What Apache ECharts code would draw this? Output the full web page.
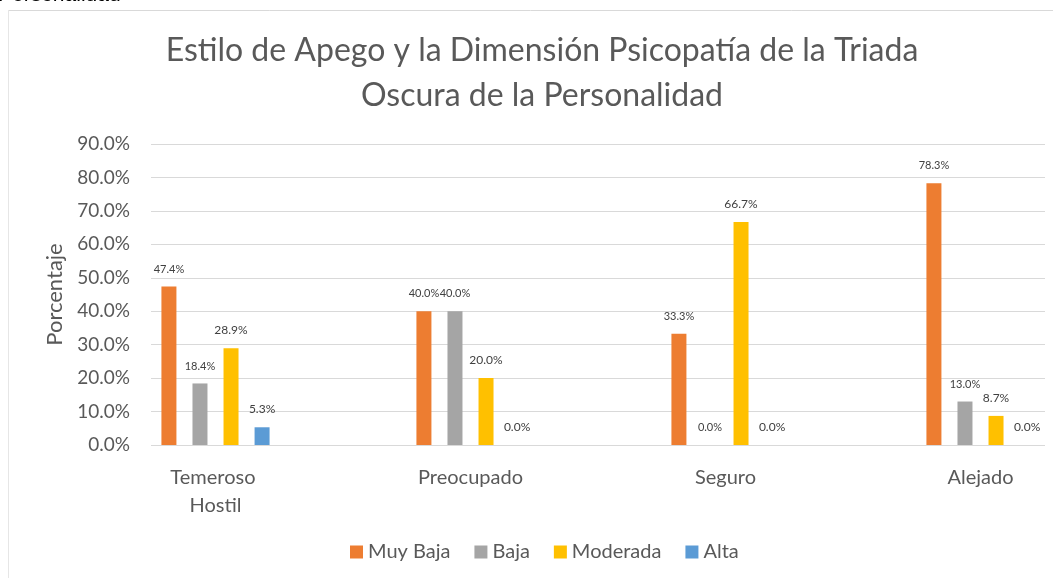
<!DOCTYPE html>
<html>
<head>
<meta charset="utf-8">
<script src="https://cdn.jsdelivr.net/npm/echarts@6/dist/echarts.min.js"></script>
<style>
  html, body { margin: 0; padding: 0; background: #fff; }
  #chart { width: 1053px; height: 578px; }
</style>
</head>
<body>
<div id="chart"></div>
<script>
// categorias y porcentajes
const categorias = ['Temeroso Hostil', 'Preocupado', 'Seguro', 'Alejado']
const muyBaja = [0.474, 0.400, 0.333, 0.783]
const baja = [0.184, 0.400, 0.000, 0.130]
const moderada = [0.289, 0.200, 0.667, 0.087]
const alta = [0.053, 0.000, 0.000, 0.000]
const ticksY = [0, 0.1, 0.2, 0.3, 0.4, 0.5, 0.6, 0.7, 0.8, 0.9]

const fuente = 'Lato, "Open Sans", sans-serif'
const gris = '#595959'

function pct(v) {
  return (v * 100).toFixed(1) + '%'
}

function serie(nombre, datos, color, tam) {
  return {
    name: nombre,
    type: 'bar',
    xAxisIndex: 0,
    yAxisIndex: 0,
    data: datos,
    barWidth: 15,
    barGap: '107%',
    itemStyle: { color: color },
    label: {
      show: true,
      position: 'top',
      distance: 12,
      color: '#404040',
      fontFamily: fuente,
      fontSize: tam,
      formatter: p => pct(p.value)
    }
  }
}

let option = {
  animation: false,
  backgroundColor: '#fff',
  color: ['#ED7D31', '#A5A5A5', '#FFC000', '#5B9BD5'],
  title: {
    text: 'Estilo de Apego y la Dimensión Psicopatía de la Triada\nOscura de la Personalidad',
    left: 537,
    textAlign: 'center',
    top: 23,
    textStyle: {
      color: gris,
      fontFamily: fuente,
      fontWeight: 'normal',
      fontSize: 32,
      lineHeight: 45
    }
  },
  legend: {
    bottom: 11,
    left: 345,
    itemWidth: 13,
    itemHeight: 13,
    itemGap: 24,
    icon: 'rect',
    textStyle: { color: gris, fontFamily: fuente, fontSize: 20 },
    data: ['Muy Baja', 'Baja', 'Moderada', 'Alta']
  },
  // grid 0: barras; grid 1: lineas de cuadricula y etiquetas del eje Y
  grid: [
    { left: 88, width: 1020, top: 144, height: 301, outerBoundsMode: 'none' },
    { left: 151, width: 894, top: 144, height: 301, outerBoundsMode: 'none' }
  ],
  xAxis: [
    {
      type: 'category',
      gridIndex: 0,
      data: categorias,
      axisLine: { show: false },
      axisTick: { show: false },
      axisLabel: {
        color: gris,
        fontFamily: fuente,
        fontSize: 20,
        margin: 19,
        lineHeight: 28,
        width: 120,
        overflow: 'break'
      }
    },
    {
      type: 'category',
      gridIndex: 1,
      data: categorias,
      show: false
    }
  ],
  yAxis: [
    {
      type: 'value',
      gridIndex: 0,
      min: 0,
      max: 0.9,
      interval: 0.1,
      show: false
    },
    {
      type: 'value',
      gridIndex: 1,
      min: ticksY[0],
      max: ticksY[ticksY.length - 1],
      interval: 0.1,
      name: 'Porcentaje',
      nameLocation: 'middle',
      nameGap: 83,
      nameTextStyle: { color: gris, fontFamily: fuente, fontSize: 22 },
      axisLine: { show: false },
      axisTick: { show: false },
      splitLine: { lineStyle: { color: '#D9D9D9', width: 1 } },
      axisLabel: {
        color: gris,
        fontFamily: fuente,
        fontSize: 19,
        margin: 21,
        formatter: v => pct(v)
      }
    }
  ],
  graphic: [
    {
      type: 'text',
      left: -2,
      top: -15,
      style: { text: 'Personalidad', fill: '#000', font: '21px "Liberation Sans", sans-serif' }
    },
    {
      type: 'line',
      shape: { x1: 8, y1: 10.5, x2: 1053, y2: 10.5 },
      style: { stroke: '#D9D9D9', lineWidth: 1 }
    },
    {
      type: 'line',
      shape: { x1: 8.5, y1: 10, x2: 8.5, y2: 578 },
      style: { stroke: '#E6E6E6', lineWidth: 1 }
    }
  ],
  series: [
    serie('Muy Baja', muyBaja, '#ED7D31', 11),
    serie('Baja', baja, '#A5A5A5', 11),
    serie('Moderada', moderada, '#FFC000', 12),
    serie('Alta', alta, '#5B9BD5', 12)
  ]
}

echarts.init(document.getElementById('chart')).setOption(option)
</script>
</body>
</html>
